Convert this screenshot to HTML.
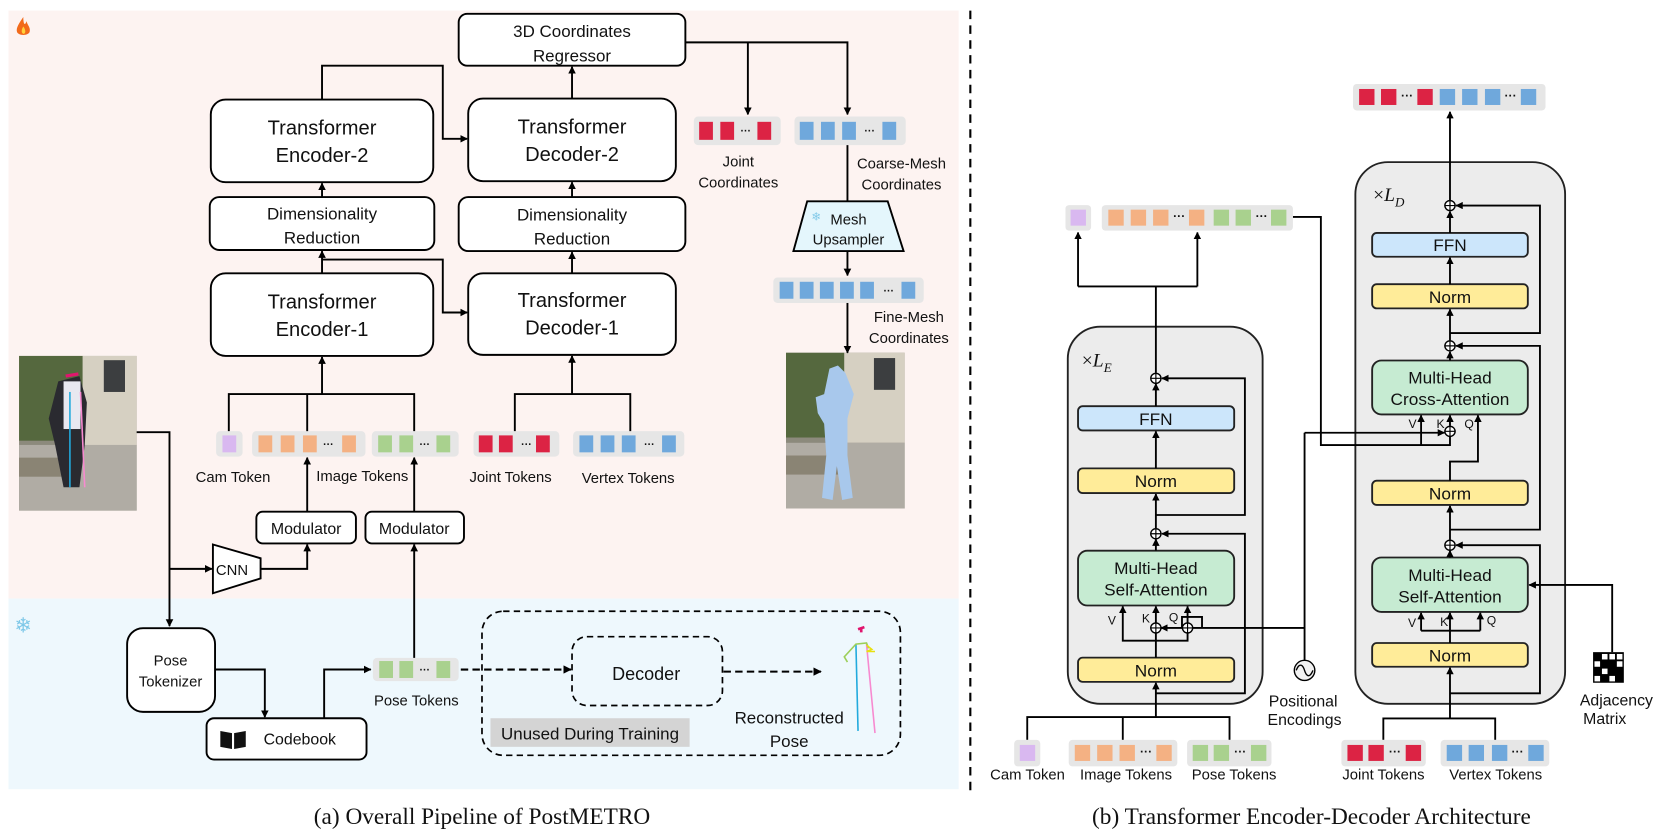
<!DOCTYPE html>
<html><head><meta charset="utf-8"><style>
html,body{margin:0;padding:0;background:#fff;}
svg{display:block;}
text{font-family:"Liberation Sans",sans-serif;fill:#111;}
.s{font-family:"Liberation Serif",serif;}
</style></head><body>
<svg width="1661" height="839" viewBox="0 0 1568 792" preserveAspectRatio="none" xmlns="http://www.w3.org/2000/svg">
<defs>
<marker id="a" viewBox="0 0 10 10" refX="9" refY="5" markerWidth="4" markerHeight="4" orient="auto"><path d="M0,0 L10,5 L0,10 z" fill="#000"/></marker>
</defs>
<rect x="8" y="10" width="897" height="555" fill="#fdf3f1"/>
<rect x="8" y="565" width="897" height="180" fill="#eef8fd"/>
<line x1="916" y1="10" x2="916" y2="748" stroke="#000" stroke-width="2" stroke-dasharray="8,6"/>
<path d="M22,16 C18,22 15,26 16,30 C17,34 27,34 28,30 C29,26 26,24 25,20 C24,24 22,24 22,16z" fill="#f26a1b"/>
<path d="M22,25 C20,28 20,31 22,32 C24,32 25,29 22,25z" fill="#ffd23a"/>
<text x="22" y="597" font-size="20" text-anchor="middle" style="fill:#7ec8e8">❄</text>

<g fill="#fff" stroke="#000" stroke-width="1.8">
<rect x="433" y="13" width="214" height="49" rx="8"/>
<rect x="199" y="94" width="210" height="78" rx="14"/>
<rect x="442" y="93" width="196" height="78" rx="14"/>
<rect x="198" y="186" width="212" height="50" rx="9"/>
<rect x="433" y="186" width="214" height="51" rx="9"/>
<rect x="199" y="258" width="210" height="78" rx="14"/>
<rect x="442" y="258" width="196" height="77" rx="14"/>
<rect x="242" y="483" width="94" height="30" rx="6"/>
<rect x="345" y="483" width="93" height="30" rx="6"/>
<rect x="120" y="593" width="83" height="79" rx="15"/>
<rect x="195" y="678" width="151" height="39" rx="7"/>
<path d="M201,514 L246,527 L246,546 L201,560 z"/>
<path d="M762,190 L838,190 L853,237 L749,237 z" fill="#e4f6fc"/>
</g>
<g font-size="19" text-anchor="middle">
<text x="540" y="35" font-size="16">3D Coordinates</text><text x="540" y="58" font-size="16">Regressor</text>
<text x="304" y="127">Transformer</text><text x="304" y="153">Encoder-2</text>
<text x="540" y="126">Transformer</text><text x="540" y="152">Decoder-2</text>
<text x="304" y="207" font-size="16">Dimensionality</text><text x="304" y="230" font-size="16">Reduction</text>
<text x="540" y="208" font-size="16">Dimensionality</text><text x="540" y="231" font-size="16">Reduction</text>
<text x="304" y="291">Transformer</text><text x="304" y="317">Encoder-1</text>
<text x="540" y="290">Transformer</text><text x="540" y="316">Decoder-1</text>
<text x="289" y="504" font-size="15">Modulator</text><text x="391" y="504" font-size="15">Modulator</text>
<text x="219" y="543" font-size="14">CNN</text>
<text x="161" y="628" font-size="14">Pose</text><text x="161" y="648" font-size="14">Tokenizer</text>
<text x="283" y="703" font-size="15">Codebook</text>
<text x="801" y="212" font-size="14">Mesh</text><text x="801" y="231" font-size="14">Upsampler</text>
<text x="697" y="157" font-size="14">Joint</text><text x="697" y="177" font-size="14">Coordinates</text>
<text x="851" y="159" font-size="14">Coarse-Mesh</text><text x="851" y="179" font-size="14">Coordinates</text>
<text x="858" y="304" font-size="14">Fine-Mesh</text><text x="858" y="324" font-size="14">Coordinates</text>
<text x="220" y="455" font-size="14">Cam Token</text><text x="342" y="454" font-size="14">Image Tokens</text>
<text x="482" y="455" font-size="14">Joint Tokens</text><text x="593" y="456" font-size="14">Vertex Tokens</text>
<text x="393" y="666" font-size="14">Pose Tokens</text>
<text x="745" y="683" font-size="16">Reconstructed</text><text x="745" y="705" font-size="16">Pose</text>
<text x="455" y="778" font-size="22" class="s">(a) Overall Pipeline of PostMETRO</text>
<text x="1238" y="778" font-size="22" class="s">(b) Transformer Encoder-Decoder Architecture</text>
</g>
<text x="766" y="208" font-size="11" style="fill:#7ec8e8">❄</text>
<path d="M208,690 L219,692 L219,707 L208,705z M221,692 L232,690 L232,705 L221,707z" fill="#111"/>
<rect x="455" y="577" width="395" height="136" rx="20" fill="none" stroke="#000" stroke-width="1.6" stroke-dasharray="6,4"/>
<rect x="540" y="601" width="142" height="65" rx="14" fill="none" stroke="#000" stroke-width="1.6" stroke-dasharray="6,4"/>
<text x="610" y="642" font-size="17" text-anchor="middle">Decoder</text>
<rect x="463" y="678" width="188" height="27" fill="#d4d4d4"/>
<text x="557" y="698" font-size="16" text-anchor="middle">Unused During Training</text>
<g stroke="#000" stroke-width="2" fill="none" stroke-dasharray="7,4" marker-end="url(#a)">
<line x1="435" y1="632" x2="539" y2="632"/><line x1="683" y1="634" x2="775" y2="634"/>
</g>
<g stroke-width="1.5" fill="none">
<line x1="808" y1="608" x2="810" y2="690" stroke="#22aadd"/>
<line x1="818" y1="608" x2="826" y2="692" stroke="#f78ad0"/>
<polyline points="800,625 797,620 808,608 818,607 820,612" stroke="#9ccf59"/>
<polyline points="818,609 823,613 818,615 826,615" stroke="#e8e010"/>
<path d="M810,594 L816,592 M813,593 L813,597" stroke="#e0156e" stroke-width="2.5"/>
</g>
<g>
<rect x="18" y="336" width="111" height="146" fill="#8c8a7c"/>
<rect x="18" y="336" width="60" height="80" fill="#55683e"/>
<rect x="78" y="336" width="51" height="85" fill="#d6d0c2"/>
<rect x="98" y="340" width="20" height="30" fill="#3c3e40"/>
<rect x="18" y="420" width="111" height="62" fill="#b0aca4"/>
<rect x="18" y="432" width="50" height="18" fill="#8a8474"/>
<path d="M55,360 L75,355 L82,380 L80,420 L75,460 L60,460 L52,420 L46,395z" fill="#2a2a30"/>
<rect x="60" y="360" width="16" height="45" fill="#e8e8f0"/>
<line x1="66" y1="370" x2="66" y2="460" stroke="#22aadd" stroke-width="1.5"/>
<line x1="76" y1="370" x2="80" y2="460" stroke="#f78ad0" stroke-width="1.5"/>
<path d="M62,355 L74,353" stroke="#e0156e" stroke-width="3"/>
<rect x="742" y="333" width="112" height="147" fill="#8c8a7c"/>
<rect x="742" y="333" width="55" height="80" fill="#55683e"/>
<rect x="797" y="333" width="57" height="85" fill="#d6d0c2"/>
<rect x="825" y="338" width="20" height="30" fill="#3c3e40"/>
<rect x="742" y="418" width="112" height="62" fill="#b0aca4"/>
<rect x="742" y="430" width="50" height="18" fill="#8a8474"/>
<path d="M770,375 L778,372 L783,348 L791,345 L798,352 L806,372 L800,395 L800,430 L805,470 L795,472 L790,440 L786,472 L776,470 L780,430 L778,400 L772,390z" fill="#a8c8ec"/>
</g>
<g>
<rect x="204" y="407" width="25" height="24" rx="4" fill="#e6e6e6"/><rect x="210" y="411" width="13" height="16" fill="#d9b8f0"/>
<rect x="238" y="407" width="107" height="24" rx="4" fill="#e6e6e6"/>
<g fill="#f4b183"><rect x="244" y="411" width="13" height="16"/><rect x="265" y="411" width="13" height="16"/><rect x="286" y="411" width="13" height="16"/><rect x="323" y="411" width="13" height="16"/></g>
<rect x="351" y="407" width="82" height="24" rx="4" fill="#e6e6e6"/>
<g fill="#a9d18e"><rect x="357" y="411" width="13" height="16"/><rect x="377" y="411" width="13" height="16"/><rect x="412" y="411" width="13" height="16"/></g>
<rect x="447" y="407" width="81" height="24" rx="4" fill="#e6e6e6"/>
<g fill="#dc2344"><rect x="452" y="411" width="13" height="16"/><rect x="471" y="411" width="13" height="16"/><rect x="506" y="411" width="13" height="16"/></g>
<rect x="541" y="407" width="105" height="24" rx="4" fill="#e6e6e6"/>
<g fill="#6fa8dc"><rect x="547" y="411" width="13" height="16"/><rect x="567" y="411" width="13" height="16"/><rect x="587" y="411" width="13" height="16"/><rect x="625" y="411" width="13" height="16"/></g>
<rect x="655" y="110" width="82" height="27" rx="4" fill="#e6e6e6"/>
<g fill="#dc2344"><rect x="660" y="115" width="13" height="17"/><rect x="680" y="115" width="13" height="17"/><rect x="715" y="115" width="13" height="17"/></g>
<rect x="750" y="110" width="105" height="27" rx="4" fill="#e6e6e6"/>
<g fill="#6fa8dc"><rect x="755" y="115" width="13" height="17"/><rect x="775" y="115" width="13" height="17"/><rect x="795" y="115" width="13" height="17"/><rect x="833" y="115" width="13" height="17"/></g>
<rect x="730" y="262" width="142" height="24" rx="4" fill="#e6e6e6"/>
<g fill="#6fa8dc"><rect x="736" y="266" width="13" height="16"/><rect x="755" y="266" width="13" height="16"/><rect x="774" y="266" width="13" height="16"/><rect x="793" y="266" width="13" height="16"/><rect x="812" y="266" width="13" height="16"/><rect x="851" y="266" width="13" height="16"/></g>
<rect x="352" y="621" width="81" height="22" rx="4" fill="#e6e6e6"/>
<g fill="#a9d18e"><rect x="358" y="624" width="13" height="16"/><rect x="377" y="624" width="13" height="16"/><rect x="412" y="624" width="13" height="16"/></g>
<g font-size="10" font-weight="bold" text-anchor="middle"><text x="310" y="423">···</text><text x="401" y="423">···</text><text x="497" y="423">···</text><text x="613" y="423">···</text><text x="704" y="127">···</text><text x="821" y="127">···</text><text x="839" y="278">···</text><text x="401" y="636">···</text></g>
</g>
<g stroke="#000" stroke-width="1.8" fill="none">
<polyline points="304,94 304,62 418,62 418,131 441,131" marker-end="url(#a)"/>
<polyline points="304,258 304,237" marker-end="url(#a)"/>
<polyline points="304,245 418,245 418,295 441,295" marker-end="url(#a)"/>
<polyline points="304,186 304,173" marker-end="url(#a)"/>
<polyline points="540,93 540,63" marker-end="url(#a)"/>
<polyline points="540,186 540,172" marker-end="url(#a)"/>
<polyline points="540,258 540,238" marker-end="url(#a)"/>
<polyline points="647,40 800,40 800,108" marker-end="url(#a)"/>
<polyline points="706,40 706,108" marker-end="url(#a)"/>
<polyline points="800,137 800,190"/>
<polyline points="800,237 800,260" marker-end="url(#a)"/>
<polyline points="800,286 800,333" marker-end="url(#a)"/>
<polyline points="304,372 304,337" marker-end="url(#a)"/>
<polyline points="216,407 216,372 391,372 391,407"/>
<polyline points="290,372 290,407"/>
<polyline points="540,372 540,336" marker-end="url(#a)"/>
<polyline points="486,407 486,372 595,372 595,407"/>
<polyline points="290,483 290,432" marker-end="url(#a)"/>
<polyline points="391,483 391,432" marker-end="url(#a)"/>
<polyline points="129,408 160,408 160,591" marker-end="url(#a)"/>
<polyline points="160,537 200,537" marker-end="url(#a)"/>
<polyline points="246,537 290,537 290,514" marker-end="url(#a)"/>
<polyline points="391,621 391,514" marker-end="url(#a)"/>
<polyline points="203,632 250,632 250,677" marker-end="url(#a)"/>
<polyline points="306,678 306,632 350,632" marker-end="url(#a)"/>
</g>

<g transform="translate(876,52.5) scale(0.44,0.4315)">
<rect x="300" y="593" width="418" height="825" rx="70" fill="#ececec" stroke="#222" stroke-width="4"/>
<rect x="917" y="233" width="450" height="1185" rx="70" fill="#ececec" stroke="#222" stroke-width="4"/>
<g stroke="#222" stroke-width="4">
<rect x="322" y="767" width="335" height="53" rx="10" fill="#cce6fb"/>
<rect x="322" y="903" width="335" height="54" rx="10" fill="#ffec99"/>
<rect x="322" y="1083" width="335" height="120" rx="20" fill="#c6ebd2"/>
<rect x="322" y="1317" width="335" height="53" rx="10" fill="#ffec99"/>
<rect x="953" y="388" width="334" height="52" rx="10" fill="#cce6fb"/>
<rect x="953" y="500" width="334" height="53" rx="10" fill="#ffec99"/>
<rect x="953" y="667" width="334" height="118" rx="20" fill="#c6ebd2"/>
<rect x="953" y="930" width="334" height="53" rx="10" fill="#ffec99"/>
<rect x="953" y="1098" width="334" height="119" rx="20" fill="#c6ebd2"/>
<rect x="953" y="1285" width="334" height="52" rx="10" fill="#ffec99"/>
</g>
<g font-size="37" text-anchor="middle">
<text x="489" y="808">FFN</text><text x="489" y="944">Norm</text>
<text x="489" y="1134">Multi-Head</text><text x="489" y="1181">Self-Attention</text>
<text x="489" y="1358">Norm</text>
<text x="1120" y="428">FFN</text><text x="1120" y="541">Norm</text>
<text x="1120" y="717">Multi-Head</text><text x="1120" y="764">Cross-Attention</text>
<text x="1120" y="971">Norm</text>
<text x="1120" y="1149">Multi-Head</text><text x="1120" y="1196">Self-Attention</text>
<text x="1120" y="1325">Norm</text>
<text x="805" y="1424" font-size="34">Positional</text><text x="808" y="1464" font-size="34">Encodings</text>
<text x="1477" y="1422" font-size="34">Adjacency</text><text x="1452" y="1462" font-size="34">Matrix</text>
</g>
<g font-size="26"><text x="386" y="1245">V</text><text x="459" y="1240">K</text><text x="517" y="1238">Q</text>
<text x="1031" y="815">V</text><text x="1091" y="815">K</text><text x="1151" y="815">Q</text>
<text x="1030" y="1250">V</text><text x="1099" y="1248">K</text><text x="1199" y="1245">Q</text></g>
<text x="330" y="680" font-size="42" class="s">×<tspan font-style="italic">L</tspan><tspan font-style="italic" font-size="28" dy="12">E</tspan></text>
<text x="955" y="318" font-size="42" class="s">×<tspan font-style="italic">L</tspan><tspan font-style="italic" font-size="28" dy="12">D</tspan></text>
<g stroke="#000" stroke-width="4" fill="none">
<polyline points="489,1447 489,1372" marker-end="url(#a)"/>
<polyline points="213,1497 213,1447 647,1447 647,1497"/><line x1="418" y1="1447" x2="418" y2="1497"/>
<polyline points="489,1317 489,1205" marker-end="url(#a)"/>
<polyline points="489,1280 418,1280 418,1205" marker-end="url(#a)"/>
<polyline points="489,1280 557,1280 557,1205" marker-end="url(#a)"/>
<polyline points="545,1252 545,1228 588,1228 588,1252"/>
<polyline points="808,1330 808,1252 500,1252" marker-end="url(#a)"/>
<polyline points="489,1083 489,1058" marker-end="url(#a)"/>
<polyline points="489,1395 680,1395 680,1046 502,1046" marker-end="url(#a)"/>
<polyline points="489,1034 489,959" marker-end="url(#a)"/>
<polyline points="489,903 489,822" marker-end="url(#a)"/>
<polyline points="489,767 489,718" marker-end="url(#a)"/>
<polyline points="489,1005 680,1005 680,706 502,706" marker-end="url(#a)"/>
<polyline points="489,694 489,505"/>
<polyline points="322,505 578,505"/>
<polyline points="322,505 322,387" marker-end="url(#a)"/>
<polyline points="578,505 578,387" marker-end="url(#a)"/>
<polyline points="783,353 843,353 843,852 1120,852 1120,834"/>
<polyline points="1058,852 1058,787" marker-end="url(#a)"/>
<polyline points="808,825 1108,825" marker-end="url(#a)"/>
<polyline points="808,825 808,1252"/>
<polyline points="1120,810 1120,787" marker-end="url(#a)"/>
<polyline points="977,1497 977,1450 1217,1450 1217,1497"/>
<polyline points="1120,1450 1120,1339" marker-end="url(#a)"/>
<polyline points="1120,1285 1120,1258"/>
<polyline points="1058,1258 1185,1258"/>
<polyline points="1058,1258 1058,1219" marker-end="url(#a)"/>
<polyline points="1120,1258 1120,1219" marker-end="url(#a)"/>
<polyline points="1185,1258 1185,1219" marker-end="url(#a)"/>
<polyline points="1120,1098 1120,1083" marker-end="url(#a)"/>
<polyline points="1120,1395 1313,1395 1313,1071 1133,1071" marker-end="url(#a)"/>
<polyline points="1120,1059 1120,985" marker-end="url(#a)"/>
<polyline points="1120,930 1120,888 1180,888 1180,787" marker-end="url(#a)"/>
<polyline points="1120,1037 1313,1037 1313,635 1133,635" marker-end="url(#a)"/>
<polyline points="1120,667 1120,648" marker-end="url(#a)"/>
<polyline points="1120,623 1120,555" marker-end="url(#a)"/>
<polyline points="1120,500 1120,442" marker-end="url(#a)"/>
<polyline points="1120,388 1120,341" marker-end="url(#a)"/>
<polyline points="1120,607 1313,607 1313,328 1133,328" marker-end="url(#a)"/>
<polyline points="1120,316 1120,123" marker-end="url(#a)"/>
<polyline points="1468,1305 1468,1158 1290,1158" marker-end="url(#a)"/>
</g>
<g fill="#fff" stroke="#000" stroke-width="3">
<circle cx="489" cy="706" r="11"/><circle cx="489" cy="1046" r="11"/><circle cx="489" cy="1252" r="11"/><circle cx="557" cy="1252" r="11"/>
<circle cx="1120" cy="328" r="11"/><circle cx="1120" cy="635" r="11"/><circle cx="1120" cy="822" r="11"/><circle cx="1120" cy="1071" r="11"/>
</g>
<g stroke="#000" stroke-width="2.5">
<path d="M478,706h22M489,695v22M478,1046h22M489,1035v22M478,1252h22M489,1241v22M546,1252h22M557,1241v22M1109,328h22M1120,317v22M1109,635h22M1120,624v22M1109,822h22M1120,811v22M1109,1071h22M1120,1060v22"/>
</g>
<circle cx="808" cy="1345" r="22" fill="#f2f2f2" stroke="#000" stroke-width="3"/>
<path d="M790,1345 C798,1325 805,1335 808,1345 C811,1355 818,1365 826,1345" fill="none" stroke="#000" stroke-width="3"/>
<rect x="1427" y="1305" width="66" height="67" fill="#000"/>
<g fill="#fff"><rect x="1446" y="1309" width="12" height="12"/><rect x="1462" y="1309" width="12" height="12"/><rect x="1478" y="1309" width="12" height="12"/><rect x="1430" y="1325" width="12" height="12"/><rect x="1478" y="1325" width="12" height="12"/><rect x="1446" y="1341" width="12" height="12"/><rect x="1430" y="1357" width="12" height="12"/><rect x="1462" y="1357" width="12" height="12"/></g>
<g>
<rect x="295" y="327" width="55" height="56" rx="8" fill="#e6e6e6"/><rect x="306" y="337" width="33" height="35" fill="#d9b8f0"/>
<rect x="373" y="327" width="410" height="56" rx="8" fill="#e6e6e6"/>
<g fill="#f4b183"><rect x="387" y="337" width="33" height="35"/><rect x="435" y="337" width="33" height="35"/><rect x="483" y="337" width="33" height="35"/><rect x="560" y="337" width="33" height="35"/></g>
<g fill="#a9d18e"><rect x="613" y="337" width="33" height="35"/><rect x="660" y="337" width="33" height="35"/><rect x="736" y="337" width="33" height="35"/></g>
<rect x="912" y="62" width="413" height="58" rx="8" fill="#e6e6e6"/>
<g fill="#dc2344"><rect x="925" y="73" width="33" height="35"/><rect x="972" y="73" width="33" height="35"/><rect x="1050" y="73" width="33" height="35"/></g>
<g fill="#6fa8dc"><rect x="1098" y="73" width="33" height="35"/><rect x="1146" y="73" width="33" height="35"/><rect x="1195" y="73" width="33" height="35"/><rect x="1272" y="73" width="33" height="35"/></g>
<rect x="185" y="1497" width="56" height="58" rx="8" fill="#e6e6e6"/><rect x="197" y="1508" width="33" height="35" fill="#d9b8f0"/>
<rect x="302" y="1497" width="233" height="58" rx="8" fill="#e6e6e6"/>
<g fill="#f4b183"><rect x="315" y="1508" width="33" height="35"/><rect x="363" y="1508" width="33" height="35"/><rect x="411" y="1508" width="33" height="35"/><rect x="490" y="1508" width="33" height="35"/></g>
<rect x="556" y="1497" width="181" height="58" rx="8" fill="#e6e6e6"/>
<g fill="#a9d18e"><rect x="568" y="1508" width="33" height="35"/><rect x="613" y="1508" width="33" height="35"/><rect x="693" y="1508" width="33" height="35"/></g>
<rect x="887" y="1497" width="181" height="58" rx="8" fill="#e6e6e6"/>
<g fill="#dc2344"><rect x="900" y="1508" width="33" height="35"/><rect x="945" y="1508" width="33" height="35"/><rect x="1025" y="1508" width="33" height="35"/></g>
<rect x="1100" y="1497" width="233" height="58" rx="8" fill="#e6e6e6"/>
<g fill="#6fa8dc"><rect x="1113" y="1508" width="33" height="35"/><rect x="1160" y="1508" width="33" height="35"/><rect x="1210" y="1508" width="33" height="35"/><rect x="1288" y="1508" width="33" height="35"/></g>
<g font-size="26" font-weight="bold" text-anchor="middle"><text x="539" y="360">···</text><text x="716" y="360">···</text><text x="1028" y="96">···</text><text x="1250" y="96">···</text><text x="468" y="1531">···</text><text x="670" y="1531">···</text><text x="1002" y="1531">···</text><text x="1265" y="1531">···</text></g>
</g>
</g>
<g font-size="14" text-anchor="middle">
<text x="970" y="736">Cam Token</text><text x="1063" y="736">Image Tokens</text><text x="1165" y="736">Pose Tokens</text>
<text x="1306" y="736">Joint Tokens</text><text x="1412" y="736">Vertex Tokens</text>
</g>
</svg>
</body></html>
